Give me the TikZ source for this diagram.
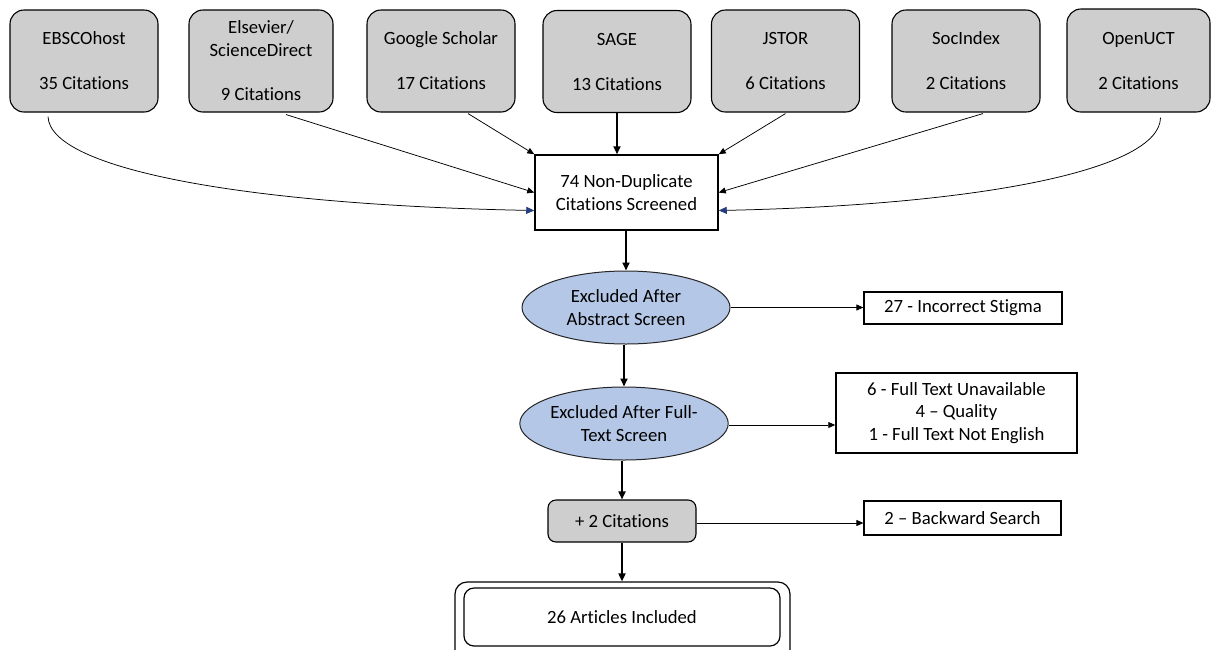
\documentclass[tikz,border=0pt]{standalone}
\usepackage{fontspec}
\setmainfont[Ligatures=NoCommon]{Carlito}
\usetikzlibrary{arrows.meta,shapes.geometric,calc}
\definecolor{boxgray}{RGB}{206,206,206}
\definecolor{ellblue}{RGB}{180,199,231}
\definecolor{tipblue}{RGB}{35,60,125}
\begin{document}
\begin{tikzpicture}[x=1pt,y=-1pt,
  txt/.style={font=\fontsize{18.7}{23}\selectfont, align=center, inner sep=0pt},
  src/.style={txt, draw=black, line width=1.1pt, fill=boxgray, rounded corners=14pt,
              minimum width=148pt, minimum height=102pt},
  plain/.style={txt, draw=black, line width=1.3pt, fill=white},
  excl/.style={txt, ellipse, draw=black!85, line width=1pt, fill=ellblue,
               minimum width=208pt, minimum height=73pt},
  thin/.style={draw=black, line width=0.75pt, -{Triangle[length=7pt,width=6pt]}},
  thinblue/.style={draw=black, line width=0.75pt, -{Triangle[length=8pt,width=7pt,color=tipblue]}},
  thick/.style={draw=black, line width=1.7pt, -{Triangle[length=8pt,width=7pt]}},
  side/.style={draw=black, line width=0.9pt, -{Triangle[length=7pt,width=6pt]}}
]
\useasboundingbox (0,0) rectangle (1212,649);
\clip (0,0) rectangle (1212,649);

% source boxes
\node[src] (ebsco)    at (84,61)    {EBSCOhost\\[22pt]35 Citations};
\node[src, minimum width=144pt] (elsevier) at (261,61) {Elsevier/\\ScienceDirect\\[21pt]9 Citations};
\node[src] (google)   at (441,61)   {Google Scholar\\[22pt]17 Citations};
\node[src] (sage)     at (617,61.5) {SAGE\\[22pt]13 Citations};
\node[src] (jstor)    at (785.5,61) {JSTOR\\[22pt]6 Citations};
\node[src] (socindex) at (966,61)   {SocIndex\\[22pt]2 Citations};
\node[src, minimum width=143pt, minimum height=103pt] (openuct) at (1138.5,60.5) {OpenUCT\\[22pt]2 Citations};

% central box
\node[plain, line width=1.5pt, minimum width=183pt, minimum height=75pt] (cbox) at (626.5,192.5)
  {74 Non-Duplicate\\Citations Screened};

% connectors into central box
\draw[thinblue] ([xshift=-36pt,yshift=-4pt]ebsco.south)
  .. controls (50,170) and (250,205) .. ([yshift=-18pt]cbox.west);
\draw[thin] ([xshift=25pt,yshift=-2pt]elsevier.south) -- (cbox.west);
\draw[thin] ([xshift=27pt,yshift=-1pt]google.south) -- (cbox.north west);
\draw[thick] (sage.south) -- (sage.south |- cbox.north);
\draw[thin] ([yshift=-1pt]jstor.south) -- (cbox.north east);
\draw[thin] ([xshift=17pt,yshift=-1pt]socindex.south) -- (cbox.east);
\draw[thinblue] ([xshift=22pt,yshift=-5pt]openuct.south)
  .. controls (1160,170) and (980,205) .. ([yshift=-18pt]cbox.east);

% main column
\node[excl] (e1) at (626,307.5) {Excluded After\\Abstract Screen};
\node[excl] (e2) at (624,423.5) {Excluded After Full-\\Text Screen};
\node[src, minimum width=148pt, minimum height=42pt, rounded corners=8pt] (plus) at (622,521) {+ 2 Citations};
\node[draw=black, line width=1.2pt, rounded corners=12pt, minimum width=335pt, minimum height=83pt, inner sep=0pt] (outer) at (622.5,623.5) {};
\node[txt, draw=black, line width=1.2pt, rounded corners=10pt, minimum width=316pt, minimum height=58pt] (art) at (622,617) {26 Articles Included};

\draw[thick] (cbox.south -| e1.north) -- (e1.north);
\draw[thick] (e1.south -| e2.north) -- (e2.north);
\draw[thick] (e2.south -| plus.north) -- (plus.north);
\draw[thick] (plus.south) -- (plus.south |- outer.north);

% side boxes
\node[plain, line width=1.2pt, minimum width=198pt, minimum height=32pt] (stig) at (963,308) {27 - Incorrect Stigma};
\node[plain, line width=1.5pt, minimum width=241pt, minimum height=80pt, font=\fontsize{18.7}{22.5}\selectfont] (full) at (956.5,413)
  {6 - Full Text Unavailable\\4 -- Quality\\1 - Full Text Not English};
\node[plain, line width=1.2pt, minimum width=197pt, minimum height=34pt] (back) at (962.5,518) {2 -- Backward Search};

\draw[side] (e1.east) -- (e1.east -| stig.west);
\draw[side] ([yshift=-1.5pt]e2.east) -- ([yshift=-1.5pt]e2.east -| full.west);
\draw[side] ([yshift=-2pt]plus.east) -- ([yshift=-2pt]plus.east -| back.west);
\end{tikzpicture}
\end{document}
